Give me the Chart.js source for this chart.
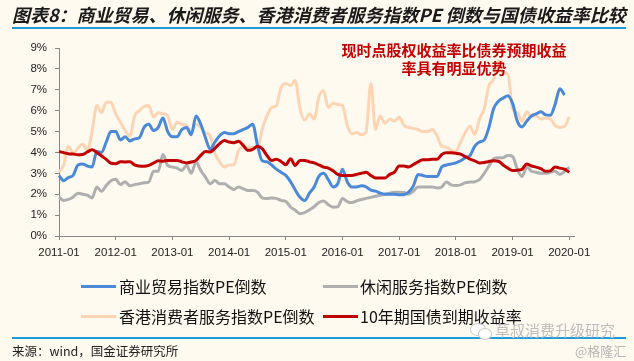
<!DOCTYPE html>
<html><head><meta charset="utf-8">
<script src="https://cdn.jsdelivr.net/npm/chart.js@4.4.1/dist/chart.umd.min.js"></script>
<style>
html,body{margin:0;padding:0;background:#FFFAF0;}
#wrap{position:relative;width:634px;height:361px;overflow:hidden;background:#FFFAF0;font-family:"Noto Sans CJK SC","Noto Sans",sans-serif;}
#c{position:absolute;left:0;top:0;}
.t{position:absolute;white-space:nowrap;}
.rule{position:absolute;left:12px;width:614px;height:2px;background:#1E9BDB;}
.lg{position:absolute;height:3px;width:35px;}
</style></head>
<body><div id="wrap">
<canvas id="c" width="634" height="361"></canvas>
<div class="t" style="left:12px;top:1px;font-size:18px;font-weight:bold;font-style:italic;color:#1a1a1a;line-height:26px;">图表8：商业贸易、休闲服务、香港消费者服务指数PE 倒数与国债收益率比较</div>
<div class="rule" style="top:27px;"></div>
<div class="t" style="left:341px;top:40px;font-size:15px;font-weight:bold;color:#C00000;line-height:20px;width:226px;text-align:center;">现时点股权收益率比债券预期收益</div>
<div class="t" style="left:341px;top:58px;font-size:15px;font-weight:bold;color:#C00000;line-height:20px;width:226px;text-align:center;">率具有明显优势</div>
<div class="lg" style="left:81px;top:285px;background:#4A88D8;"></div>
<div class="t" style="left:119px;top:275px;font-size:16px;line-height:22px;color:#111;">商业贸易指数PE倒数</div>
<div class="lg" style="left:323px;top:285px;background:#AFAFAF;"></div>
<div class="t" style="left:360px;top:275px;font-size:16px;line-height:22px;color:#111;">休闲服务指数PE倒数</div>
<div class="lg" style="left:81px;top:315px;background:#FDD5B5;"></div>
<div class="t" style="left:119px;top:305px;font-size:16px;line-height:22px;color:#111;">香港消费者服务指数PE倒数</div>
<div class="lg" style="left:323px;top:315px;background:#C00000;"></div>
<div class="t" style="left:360px;top:305px;font-size:16px;line-height:22px;color:#111;">10年期国债到期收益率</div>
<div class="rule" style="top:337px;"></div>
<div class="t" style="left:12px;top:342px;font-size:12.5px;line-height:18px;color:#222;">来源：wind，国金证券研究所</div>
<div class="t" style="left:470px;top:323px;width:14px;height:11px;border:1.5px solid #c8c8c8;border-radius:50%;background:#fff;"></div>
<div class="t" style="left:478px;top:328px;width:12px;height:10px;border:1.5px solid #c8c8c8;border-radius:50%;background:#fff;"></div>
<div class="t" style="left:495px;top:320px;font-size:15px;line-height:20px;color:#bdbdbd;">草叔消费升级研究</div>
<div class="t" style="left:575px;top:342px;font-size:13px;line-height:18px;color:#b5b5b5;">@格隆汇</div>
</div>
<script>
const years = ['2011','2012','2013','2014','2015','2016','2017','2018','2019','2020'];
const months = ['01','02','03','04','05','06','07','08','09','10','11','12'];
const labels = [];
years.forEach(y => months.forEach(m => { if (y !== '2020' || m <= '02') labels.push(y + '-' + m); }));

const seriesNames = ['商业贸易指数PE倒数','休闲服务指数PE倒数','香港消费者服务指数PE倒数','10年期国债到期收益率'];

const commerce = [2.9,2.65,2.8,2.9,3.4,3.45,3.35,3.3,4.05,4.0,
4.5,5.0,5.0,4.6,4.75,4.55,4.65,4.7,5.2,5.35,
5.05,5.2,5.65,5.0,4.75,4.75,5.1,5.2,4.85,5.75,
5.35,4.7,4.15,4.5,4.8,4.95,4.9,4.9,5.0,5.1,
5.2,5.35,4.35,3.6,3.55,3.4,3.2,3.05,2.9,2.6,
2.2,1.85,1.7,2.05,2.35,2.85,3.0,2.7,2.35,2.5,
3.2,2.6,2.35,2.35,2.4,2.35,2.2,2.15,2.05,2.0,
2.0,2.0,1.98,1.98,2.1,2.4,2.95,2.9,2.85,2.85,
2.85,3.3,3.4,3.45,3.5,3.6,3.75,3.85,4.3,4.5,
4.6,5.2,6.1,6.45,6.6,6.72,6.35,5.5,5.22,5.5,
5.75,5.85,5.95,5.8,5.78,6.3,7.05,6.75];

const leisure = [1.87,1.7,1.75,1.87,2.05,2.0,1.95,1.82,2.35,2.14,
2.42,2.65,2.72,2.46,2.6,2.4,2.46,2.5,2.55,2.58,
3.1,3.1,3.9,3.38,3.3,3.25,3.14,3.38,3.0,3.54,
3.14,2.82,2.5,2.66,2.5,2.5,2.35,2.23,2.35,2.26,
2.18,2.18,2.1,1.83,1.8,1.82,1.8,1.7,1.66,1.39,
1.23,1.07,1.12,1.25,1.4,1.6,1.68,1.5,1.38,1.4,
1.8,1.65,1.6,1.68,1.75,1.8,1.85,1.9,1.95,2.0,
2.05,2.1,2.1,2.08,2.0,2.15,2.35,2.35,2.35,2.35,
2.3,2.35,2.58,2.45,2.42,2.45,2.55,2.58,2.6,2.7,
3.0,3.35,3.7,3.75,3.75,3.85,3.8,3.2,2.85,3.3,
3.1,3.05,3.0,3.0,3.05,3.1,2.95,3.1,3.3];

const hkConsumer = [3.06,3.4,4.3,3.95,4.2,4.4,4.1,5.0,6.25,5.9,
6.4,6.4,5.85,5.45,5.05,4.8,5.75,6.0,6.2,6.25,
5.7,5.9,5.85,5.75,5.1,5.45,5.35,5.3,5.0,5.35,
5.2,4.95,4.8,3.95,3.55,3.3,3.4,3.4,4.1,4.25,
4.25,4.25,4.25,5.1,5.75,6.15,6.25,7.1,7.3,7.2,
7.45,6.1,5.55,5.85,5.6,6.65,6.95,6.15,6.35,6.3,
6.25,5.3,4.9,4.95,4.85,5.0,7.3,5.1,5.75,5.4,
5.6,5.5,5.7,5.3,5.2,5.15,5.1,5.0,5.0,5.1,
4.8,4.3,4.25,4.1,4.05,4.5,4.95,5.25,4.85,5.6,
6.1,7.2,7.5,8.4,7.8,7.75,6.1,5.9,5.5,5.95,
5.7,5.75,5.6,5.65,5.6,5.3,5.2,5.25,5.7];

const bond10y = [4.05,3.99,3.94,3.92,3.89,3.9,4.02,4.13,4.0,3.83,
3.67,3.48,3.46,3.56,3.54,3.56,3.4,3.35,3.34,3.38,
3.49,3.6,3.58,3.62,3.62,3.62,3.55,3.5,3.54,3.62,
3.86,4.05,4.02,4.2,4.42,4.57,4.5,4.47,4.53,4.34,
4.1,4.15,4.3,4.18,3.86,3.62,3.67,3.57,3.41,3.7,
3.38,3.62,3.62,3.55,3.5,3.4,3.3,3.25,3.12,2.95,
2.9,2.9,2.9,2.95,3.0,3.05,2.9,2.78,2.78,2.78,
2.95,3.06,3.35,3.35,3.3,3.42,3.55,3.65,3.65,3.67,
3.67,3.9,3.98,3.98,3.96,3.92,3.8,3.68,3.6,3.5,
3.52,3.57,3.6,3.58,3.4,3.25,3.14,3.15,3.2,3.45,
3.35,3.3,3.22,3.1,3.12,3.3,3.25,3.2,3.05];

const yTicks = [0,1,2,3,4,5,6,7,8,9];

const colors = ['#4A88D8','#AFAFAF','#FDD5B5','#C00000'];
const values = [commerce, leisure, hkConsumer, bond10y];
const orders = [1,2,3,0];

const axisColor = '#868686';
const tickFont = {family:'"Liberation Sans", Arial, sans-serif', size:11.5};

new Chart(document.getElementById('c'), {
  type:'line',
  data:{
    labels: labels,
    datasets: values.map((v,i)=>({
      label: seriesNames[i], data: v, borderColor: colors[i], backgroundColor: colors[i],
      borderWidth: 3, pointRadius: 0, cubicInterpolationMode:'monotone', fill:false, order: orders[i]
    }))
  },
  options:{
    responsive:false, animation:false, devicePixelRatio:1,
    layout:{padding:{left:0,right:60,top:48,bottom:105}},
    plugins:{legend:{display:false}, tooltip:{enabled:false}},
    scales:{
      x:{
        type:'category', offset:false,
        grid:{drawOnChartArea:false, tickLength:4, color:axisColor},
        border:{color:axisColor, width:1},
        ticks:{autoSkip:false, maxRotation:0, minRotation:0, padding:6, font:tickFont, color:'#222'},
        afterBuildTicks: s => { s.ticks = s.ticks.filter(t => labels[t.value].endsWith('-01')); },
        afterFit: s => { s.height = 20; }
      },
      y:{
        min:0, max:9,
        grid:{drawOnChartArea:false, tickLength:4, color:axisColor},
        border:{color:axisColor, width:1},
        ticks:{stepSize:1, padding:8, font:tickFont, color:'#222', callback: v => v + '%'},
        afterBuildTicks: s => { s.ticks = yTicks.map(v => ({value:v})); },
        afterFit: s => { s.width = 59; }
      }
    }
  }
});
</script>
</body></html>
